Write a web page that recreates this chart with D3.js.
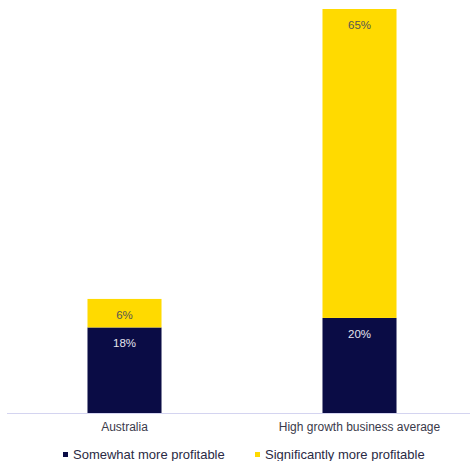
<!DOCTYPE html>
<html>
<head>
<meta charset="utf-8">
<script src="https://cdn.jsdelivr.net/npm/d3@7"></script>
<style>
  body { margin: 0; background: #fff; }
  text { font-family: "Liberation Sans", Arial, sans-serif; }
</style>
</head>
<body>
<div id="chart-area"></div>
<script>
// Data
var categories = ['Australia', 'High growth business average'];
var somewhat = [18, 20];
var significantly = [6, 65];
var seriesNames = ['Somewhat more profitable', 'Significantly more profitable'];
var colors = ['#0a0c45', '#ffda00'];

var width = 472, height = 461;
var baseline = 413;

var svg = d3.select('#chart-area')
  .append('svg')
    .attr('width', width)
    .attr('height', height);

var x = d3.scaleBand()
  .domain(categories)
  .range([7, 477])
  .paddingInner(0.685)
  .paddingOuter(0.3425);

var y = d3.scaleLinear()
  .domain([0, 85])
  .range([baseline, 9]);

var rows = categories.map(function(c, i) {
  return { cat: c, somewhat: somewhat[i], significantly: significantly[i] };
});

var stack = d3.stack().keys(['somewhat', 'significantly']);
var layers = stack(rows);

var labelColors = ['#e4e4ee', '#555555'];

layers.forEach(function(layer, li) {
  var g = svg.append('g');
  g.selectAll('rect')
    .data(layer)
    .enter()
    .append('rect')
      .attr('x', function(d) { return x(d.data.cat); })
      .attr('width', x.bandwidth())
      .attr('y', function(d) { return y(d[1]); })
      .attr('height', function(d) { return y(d[0]) - y(d[1]); })
      .attr('fill', colors[li]);

  g.selectAll('text')
    .data(layer)
    .enter()
    .append('text')
      .attr('x', function(d) { return x(d.data.cat) + x.bandwidth() / 2; })
      .attr('y', function(d) { return y(d[1]) + 20; })
      .attr('text-anchor', 'middle')
      .attr('font-size', '11.5px')
      .attr('fill', labelColors[li])
      .text(function(d) { return (d[1] - d[0]) + '%'; });
});

// Axis line
svg.append('line')
  .attr('x1', 7)
  .attr('x2', 470)
  .attr('y1', baseline + 0.5)
  .attr('y2', baseline + 0.5)
  .attr('stroke', '#d4d4f0')
  .attr('stroke-width', 1);

// Category labels
svg.selectAll('.cat-label')
  .data(categories)
  .enter()
  .append('text')
    .attr('class', 'cat-label')
    .attr('x', function(d) { return x(d) + x.bandwidth() / 2; })
    .attr('y', 431)
    .attr('text-anchor', 'middle')
    .attr('font-size', '12px')
    .attr('fill', '#3a3a4a')
    .text(function(d) { return d; });

// Legend
var legendX = [63, 255];
var legend = svg.selectAll('.legend')
  .data(seriesNames)
  .enter()
  .append('g')
    .attr('class', 'legend')
    .attr('transform', function(d, i) { return 'translate(' + legendX[i] + ',454)'; });

legend.append('rect')
  .attr('x', 0)
  .attr('y', -2)
  .attr('width', 5)
  .attr('height', 5)
  .attr('fill', function(d, i) { return colors[i]; });

legend.append('text')
  .attr('x', 10)
  .attr('y', 4.5)
  .attr('font-size', '13px')
  .attr('fill', '#2a2a44')
  .text(function(d) { return d; });
</script>
</body>
</html>
